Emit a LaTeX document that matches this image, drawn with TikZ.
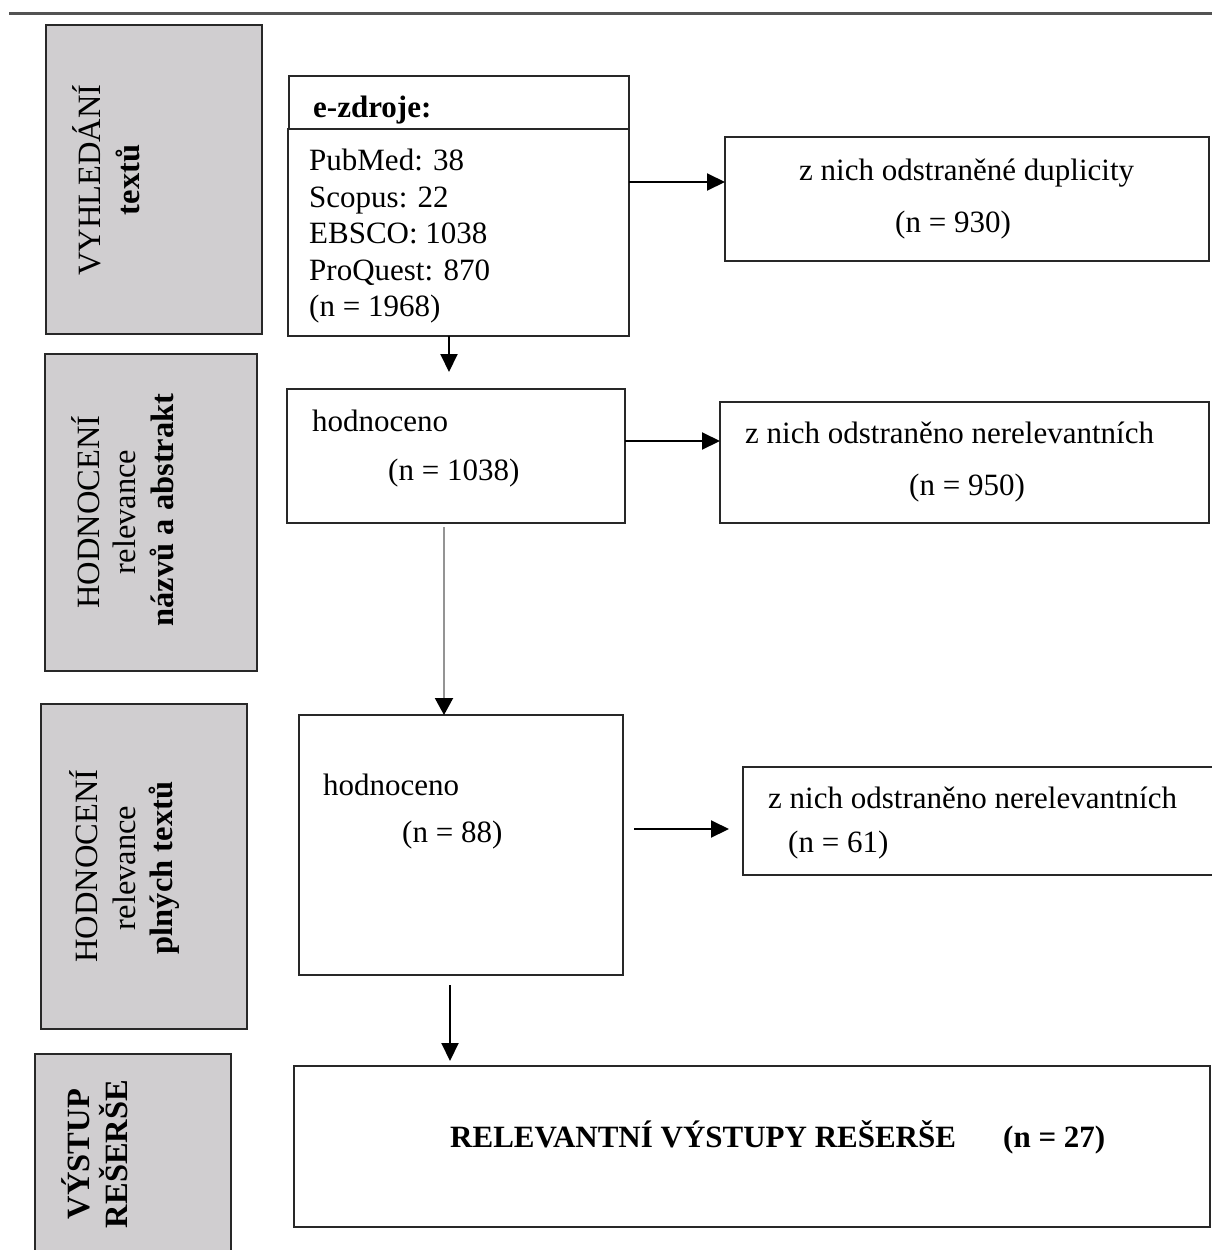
\documentclass[tikz,border=0pt]{standalone}
\usepackage{fontspec}
\setmainfont{Liberation Serif}
\usetikzlibrary{arrows.meta}
\definecolor{grayfill}{RGB}{208,206,208}
\definecolor{edge}{RGB}{40,40,40}
\begin{document}
\begin{tikzpicture}[x=1pt,y=-1pt,
  box/.style={draw=edge, line width=2.2pt, fill=white, inner sep=0pt, outer sep=0pt, anchor=north west},
  phase/.style={draw=edge, line width=2.6pt, fill=grayfill, inner sep=0pt, outer sep=0pt, anchor=north west},
  txt/.style={inner sep=0pt, anchor=base west, font=\fontsize{31}{37}\selectfont},
  btxt/.style={inner sep=0pt, anchor=base west, font=\fontsize{31}{37}\selectfont\bfseries},
  vtxt/.style={inner sep=0pt, anchor=base, rotate=90, font=\fontsize{32.5}{38}\selectfont},
  bvtxt/.style={inner sep=0pt, anchor=base, rotate=90, font=\fontsize{32.5}{38}\selectfont\bfseries},
  arr/.style={-{Triangle[length=18pt,width=17pt]}, line width=2pt, black},
  garr/.style={-{Triangle[length=17pt,width=18pt,color=black]}, line width=2pt, black!42},
]
\useasboundingbox (0,0) rectangle (1211,1250);
\fill[white] (0,0) rectangle (1211,1250);

% top rule
\coordinate (ruleL) at (9,13);
\coordinate (ruleR) at (1215,13);
\draw[line width=3pt, edge!80] (ruleL) -- (ruleR);

% phase boxes (grey)
\node[phase, minimum width=216pt, minimum height=309pt] (g1) at (46,25) {};
\node[phase, minimum width=212pt, minimum height=317pt] (g2) at (45,354) {};
\node[phase, minimum width=206pt, minimum height=325pt] (g3) at (41,704) {};
\node[phase, minimum width=196pt, minimum height=215pt] (g4) at (35,1054) {};

% phase labels
\node[vtxt]  (g1a) at (100,180) {VYHLEDÁNÍ};
\node[bvtxt] (g1b) at (139,180) {textů};
\node[vtxt]  (g2a) at (99,512) {HODNOCENÍ};
\node[vtxt]  (g2b) at (135,512) {relevance};
\node[bvtxt] (g2c) at (173,510) {názvů a abstrakt};
\node[vtxt]  (g3a) at (97,866) {HODNOCENÍ};
\node[vtxt]  (g3b) at (135,868) {relevance};
\node[bvtxt] (g3c) at (172,868) {plných textů};
\node[bvtxt] (g4a) at (89,1154) {VÝSTUP};
\node[bvtxt] (g4b) at (127,1154) {REŠERŠE};

% flow boxes
\node[box, minimum width=340pt, minimum height=53pt]  (ezt)  at (289,76) {};
\node[box, minimum width=341pt, minimum height=207pt] (ezb)  at (288,129) {};
\node[box, minimum width=484pt, minimum height=124pt] (dup)  at (725,137) {};
\node[box, minimum width=338pt, minimum height=134pt] (h1)   at (287,389) {};
\node[box, minimum width=489pt, minimum height=121pt] (ner1) at (720,402) {};
\node[box, minimum width=324pt, minimum height=260pt] (h2)   at (299,715) {};
\node[box, minimum width=480pt, minimum height=108pt] (ner2) at (743,767) {};
\node[box, minimum width=916pt, minimum height=161pt] (fin)  at (294,1066) {};

% texts
\node[btxt] (ezh) at (313,117) {e-zdroje:};
\node[txt] (ez1) at (309,170) {PubMed: 38};
\node[txt] (ez2) at (309,207) {Scopus: 22};
\node[txt] (ez3) at (309,243) {EBSCO: 1038};
\node[txt] (ez4) at (309,280) {ProQuest: 870};
\node[txt] (ez5) at (309,316) {(n = 1968)};

\node[txt] (dupa) at (799,180) {z nich odstraněné duplicity};
\node[txt] (dupb) at (895,232) {(n = 930)};

\node[txt] (h1a) at (312,431) {hodnoceno};
\node[txt] (h1b) at (388,480) {(n = 1038)};

\node[txt] (ner1a) at (745,443) {z nich odstraněno nerelevantních};
\node[txt] (ner1b) at (909,495) {(n = 950)};

\node[txt] (h2a) at (323,795) {hodnoceno};
\node[txt] (h2b) at (402,842) {(n = 88)};

\node[txt] (ner2a) at (768,808) {z nich odstraněno nerelevantních};
\node[txt] (ner2b) at (788,852) {(n = 61)};

\node[btxt] (fina) at (450,1147) {RELEVANTNÍ VÝSTUPY REŠERŠE};
\node[btxt] (finb) at (1003,1147) {(n = 27)};

% connector helper coordinates
\coordinate (c1x) at (449,0);
\coordinate (c2y) at (0,182);
\coordinate (c3y) at (0,441);
\coordinate (c4x) at (444,0);
\coordinate (c5y) at (0,829);
\coordinate (c6x) at (450,0);

% connectors
\draw[arr, shorten >=17pt] (ezb.south -| c1x) -- (h1.north -| c1x);
\draw[arr] (ezb.east |- c2y) -- (dup.west |- c2y);
\draw[arr] (h1.east |- c3y) -- (ner1.west |- c3y);
\draw[garr, shorten <=4pt] (h1.south -| c4x) -- (h2.north -| c4x);
\draw[arr, shorten <=11pt, shorten >=14pt] (h2.east |- c5y) -- (ner2.west |- c5y);
\draw[arr, shorten <=10pt, shorten >=5pt] (h2.south -| c6x) -- (fin.north -| c6x);
\end{tikzpicture}
\end{document}
